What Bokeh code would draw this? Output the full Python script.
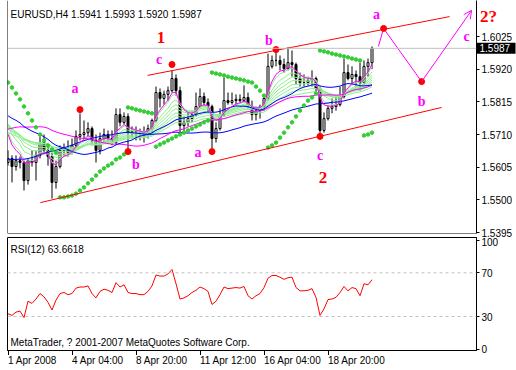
import numpy as np
import pandas as pd
from bokeh.plotting import figure
from bokeh.layouts import column, row
from bokeh.models import (Range1d, Span, Label, FixedTicker, PrintfTickFormatter,
                          Arrow, OpenHead)
from bokeh.embed import file_html
from bokeh.resources import INLINE
from bokeh.core.properties import value

# ---------------- data (EURUSD H4, bar 0 = 1 Apr 2008 12:00) ----------------
prior_close = [
    1.5480, 1.5500, 1.5520, 1.5530, 1.5540, 1.5550,
    1.5560, 1.5570, 1.5600, 1.5620, 1.5610, 1.5620,
    1.5630, 1.5620, 1.5600, 1.5640, 1.5650, 1.5660,
    1.5720, 1.5800, 1.5760, 1.5720, 1.5740, 1.5760,
    1.5740, 1.5720, 1.5700, 1.5680, 1.5750, 1.5780,
    1.5770, 1.5740, 1.5700, 1.5660, 1.5610, 1.5590,
    1.5560, 1.5500, 1.5460, 1.5420, 1.5400, 1.5420,
    1.5410, 1.5425, 1.5435, 1.5420, 1.5430, 1.5435,
    1.5440, 1.5420, 1.5450, 1.5480, 1.5500, 1.5490,
    1.5510, 1.5530, 1.5560, 1.5600, 1.5620, 1.5610,
    1.5640, 1.5660, 1.5700, 1.5760, 1.5790, 1.5780,
    1.5800, 1.5780, 1.5760, 1.5790, 1.5810, 1.5790,
    1.5770, 1.5760, 1.5790, 1.5820, 1.5800, 1.5790,
    1.5780, 1.5760, 1.5740, 1.5770, 1.5800, 1.5790,
    1.5780, 1.5760, 1.5700]

open_ = [1.5620, 1.5633, 1.5607, 1.5626, 1.5620, 1.5562, 1.5626, 1.5620, 1.5643, 1.5684,
         1.5659, 1.5639, 1.5556, 1.5607, 1.5659, 1.5665, 1.5652, 1.5675, 1.5704, 1.5710,
         1.5716, 1.5729, 1.5691, 1.5659, 1.5697, 1.5710, 1.5697, 1.5684, 1.5774, 1.5749,
         1.5768, 1.5716, 1.5720, 1.5716, 1.5713, 1.5710, 1.5729, 1.5755, 1.5845, 1.5826,
         1.5839, 1.5851, 1.5890, 1.5851, 1.5739, 1.5749, 1.5761, 1.5774, 1.5800, 1.5832,
         1.5813, 1.5800, 1.5697, 1.5729, 1.5774, 1.5819, 1.5813, 1.5819, 1.5823, 1.5819,
         1.5829, 1.5800, 1.5774, 1.5787, 1.5800, 1.5826, 1.5929, 1.5948, 1.5948, 1.5935,
         1.5922, 1.5941, 1.5935, 1.5890, 1.5877, 1.5877, 1.5884, 1.5890, 1.5858, 1.5723,
         1.5761, 1.5794, 1.5800, 1.5806, 1.5832, 1.5909, 1.5890, 1.5903, 1.5896, 1.5877,
         1.5929, 1.5941]
high = [1.5659, 1.5643, 1.5643, 1.5639, 1.5626, 1.5633, 1.5659, 1.5659, 1.5704, 1.5710,
        1.5675, 1.5652, 1.5626, 1.5675, 1.5681, 1.5691, 1.5697, 1.5723, 1.5778, 1.5755,
        1.5749, 1.5736, 1.5710, 1.5716, 1.5729, 1.5723, 1.5723, 1.5794, 1.5794, 1.5781,
        1.5778, 1.5736, 1.5736, 1.5729, 1.5736, 1.5742, 1.5761, 1.5864, 1.5858, 1.5851,
        1.5864, 1.5916, 1.5903, 1.5864, 1.5768, 1.5781, 1.5787, 1.5845, 1.5858, 1.5845,
        1.5826, 1.5806, 1.5749, 1.5794, 1.5893, 1.5845, 1.5845, 1.5839, 1.5839, 1.5868,
        1.5845, 1.5819, 1.5800, 1.5806, 1.5835, 1.5970, 1.5964, 1.5980, 1.5964, 1.5954,
        1.5990, 1.5980, 1.5941, 1.5909, 1.5903, 1.5896, 1.5916, 1.5896, 1.5864, 1.5781,
        1.5803, 1.5826, 1.5832, 1.5864, 1.5954, 1.5935, 1.5929, 1.5916, 1.5941, 1.5948,
        1.5954, 1.5993]
low = [1.5610, 1.5556, 1.5594, 1.5601, 1.5530, 1.5549, 1.5607, 1.5562, 1.5633, 1.5646,
       1.5610, 1.5504, 1.5536, 1.5601, 1.5643, 1.5639, 1.5646, 1.5668, 1.5691, 1.5697,
       1.5704, 1.5675, 1.5620, 1.5646, 1.5684, 1.5681, 1.5675, 1.5678, 1.5736, 1.5742,
       1.5652, 1.5697, 1.5691, 1.5691, 1.5684, 1.5697, 1.5716, 1.5749, 1.5797, 1.5806,
       1.5819, 1.5845, 1.5835, 1.5716, 1.5722, 1.5736, 1.5749, 1.5768, 1.5794, 1.5800,
       1.5781, 1.5665, 1.5684, 1.5723, 1.5768, 1.5806, 1.5806, 1.5806, 1.5813, 1.5813,
       1.5794, 1.5755, 1.5755, 1.5761, 1.5787, 1.5819, 1.5922, 1.5929, 1.5916, 1.5909,
       1.5916, 1.5896, 1.5871, 1.5864, 1.5864, 1.5868, 1.5864, 1.5848, 1.5704, 1.5716,
       1.5755, 1.5778, 1.5787, 1.5800, 1.5826, 1.5884, 1.5871, 1.5864, 1.5851, 1.5871,
       1.5896, 1.5920]
close = [1.5633, 1.5607, 1.5626, 1.5620, 1.5562, 1.5626, 1.5620, 1.5643, 1.5684, 1.5659,
         1.5639, 1.5556, 1.5607, 1.5659, 1.5665, 1.5652, 1.5675, 1.5704, 1.5710, 1.5716,
         1.5729, 1.5691, 1.5659, 1.5697, 1.5710, 1.5697, 1.5684, 1.5774, 1.5749, 1.5768,
         1.5716, 1.5720, 1.5716, 1.5713, 1.5710, 1.5729, 1.5755, 1.5845, 1.5826, 1.5839,
         1.5851, 1.5890, 1.5851, 1.5739, 1.5749, 1.5761, 1.5774, 1.5800, 1.5832, 1.5813,
         1.5800, 1.5697, 1.5729, 1.5774, 1.5819, 1.5813, 1.5819, 1.5823, 1.5819, 1.5829,
         1.5800, 1.5774, 1.5787, 1.5800, 1.5826, 1.5929, 1.5948, 1.5948, 1.5935, 1.5922,
         1.5941, 1.5935, 1.5890, 1.5877, 1.5877, 1.5884, 1.5890, 1.5858, 1.5723, 1.5761,
         1.5794, 1.5800, 1.5806, 1.5832, 1.5909, 1.5890, 1.5903, 1.5896, 1.5877, 1.5929,
         1.5941, 1.5987]

# Parabolic SAR dots
sar = [1.5877, 1.5861, 1.5842, 1.5823, 1.5800, 1.5778, 1.5755, 1.5733, 1.5710, 1.5691,
       1.5675, 1.5662, 1.5652,
       1.5508, 1.5508, 1.5511, 1.5514, 1.5520, 1.5530, 1.5540, 1.5553, 1.5565, 1.5578,
       1.5591, 1.5601, 1.5610, 1.5617, 1.5630, 1.5636, 1.5646,
       1.5797, 1.5794, 1.5790, 1.5787, 1.5784, 1.5781, 1.5778,
       1.5671, 1.5678, 1.5684, 1.5691, 1.5697, 1.5704, 1.5710, 1.5716, 1.5723, 1.5729,
       1.5736, 1.5742, 1.5749, 1.5755,
       1.5909, 1.5906, 1.5903, 1.5900, 1.5896, 1.5893, 1.5890, 1.5887, 1.5884, 1.5880,
       1.5877, 1.5864, 1.5851, 1.5835,
       1.5668, 1.5675, 1.5684, 1.5700, 1.5716, 1.5733, 1.5749, 1.5768, 1.5787, 1.5803,
       1.5819, 1.5829, 1.5842,
       1.5980, 1.5977, 1.5974, 1.5970, 1.5967, 1.5964, 1.5961, 1.5958, 1.5954, 1.5951,
       1.5948,
       1.5707, 1.5710, 1.5716]

rsi = [32.5, 31, 34, 35, 29, 44, 42, 46, 51, 48,
       43, 36, 45, 51, 52, 50, 51, 56, 57, 57,
       58, 51, 47, 53, 55, 54, 52, 61, 57, 59,
       52, 51, 51, 50, 50, 53, 58, 68, 67, 67,
       69, 73, 60, 46, 47, 49, 52, 54, 57, 55.5,
       53, 41, 44, 50, 57, 55.5, 56, 56.5, 56, 57.5,
       49, 46, 49, 51, 56.5, 65, 67.5, 67.5, 66, 64,
       65.5, 66, 56.5, 53.5, 53.5, 54, 55.5, 47.5, 31, 37,
       45.5, 46, 47.5, 52, 57.5, 53.5, 56.5, 55.5, 49, 60,
       59, 63.66]

# Elliott wave marks
wave_bar = [18, 30, 41, 51, 67, 78]
wave_price = [1.5790, 1.5655, 1.5935, 1.5655, 1.5983, 1.5704]
wave_text = ["a", "b", "c", "a", "b", "c"]
proj_bar = [92.6, 93.9, 103.4, 115.9]
proj_price = [1.5993, 1.6051, 1.5880, 1.6109]
proj_text = ["a", "b", "c"]
upper_bar, upper_price = [34.9, 110.4], [1.5900, 1.6089]
lower_bar, lower_price = [8.1, 108.4], [1.5491, 1.5797]

price_ticks = [1.5395, 1.5500, 1.5605, 1.5710, 1.5815, 1.5920, 1.6025]
rsi_ticks = [0, 30, 70, 100]
time_ticks = [0, 16, 32, 48, 64, 80]
time_labels = ["1 Apr 2008", "4 Apr 04:00", "8 Apr 20:00", "11 Apr 12:00",
               "16 Apr 04:00", "18 Apr 20:00"]

# ---------------- indicators ----------------
n = len(close)
idx = np.arange(n)
o = np.array(open_); h = np.array(high); l = np.array(low); c = np.array(close)
full = np.array(prior_close + close)


def ema(v, period):
    k = 2.0 / (period + 1)
    out = np.empty(len(v)); out[0] = v[0]
    for i in range(1, len(v)):
        out[i] = out[i - 1] + k * (v[i] - out[i - 1])
    return out[-n:]


def sma(v, period):
    return pd.Series(v).rolling(period, min_periods=1).mean().to_numpy()[-n:]


# ---------------- layout constants ----------------
FONT = "Liberation Sans"
SERIF = "Liberation Serif"
PX = 0.0003214             # price per pixel
ytop = 1.6025 + 36 * PX
ybot = ytop - 233 * PX
xr = Range1d(-0.125, 117.125)
common = dict(toolbar_location=None, output_backend="svg", min_border_left=7,
              min_border_right=40, frame_width=469)

# ---------------- main pane ----------------
p1 = figure(frame_height=233, x_range=xr, y_range=Range1d(ybot, ytop),
            x_axis_location=None, y_axis_location="right",
            min_border_top=0, min_border_bottom=10, **common)
p1.outline_line_color = None
p1.grid.visible = False
ax = p1.yaxis[0]
ax.ticker = FixedTicker(ticks=price_ticks)
ax.formatter = PrintfTickFormatter(format="%.4f")
ax.major_tick_out = 3; ax.major_tick_in = 0
ax.minor_tick_line_color = None
ax.axis_line_color = "black"; ax.major_tick_line_color = "black"
ax.major_label_text_font = FONT; ax.major_label_text_font_size = "10px"
ax.major_label_text_color = "black"; ax.major_label_standoff = 2

p1.add_layout(Span(location=xr.start, dimension="height", line_color="black", line_width=1))
p1.add_layout(Span(location=ybot, dimension="width", line_color="black", line_width=1))
p1.add_layout(Span(location=close[-1], dimension="width", line_color="#C0C0C0", line_width=1))

inc = c >= o
p1.segment(idx, h, idx, l, line_color="black", line_width=1)
p1.vbar(idx[inc], 0.5, o[inc], c[inc], fill_color="white", line_color="black", line_width=1)
p1.vbar(idx[~inc], 0.5, c[~inc], o[~inc], fill_color="black", line_color="black", line_width=1)

for per in [6, 9, 12, 15, 19, 23, 28, 34]:
    p1.line(idx, ema(full, per), line_color="#90EE90", line_width=1)
p1.line(idx, sma(full, 55), line_color="#0000FF", line_width=1)
p1.line(idx, sma(full, 34), line_color="#FF00FF", line_width=1)
p1.line(idx, sma(full, 21), line_color="#0000FF", line_width=1)
p1.line(idx, ema(full, 5), line_color="#FF00FF", line_width=1)

p1.scatter(idx, sar, marker="circle", size=3.5, fill_color="#32CD32", line_color="#32CD32")

p1.line(upper_bar, upper_price, line_color="#FF0000", line_width=1)
p1.line(lower_bar, lower_price, line_color="#FF0000", line_width=1)

p1.line(proj_bar[:3], proj_price[:3], line_color="#FF00FF", line_width=1)
p1.add_layout(Arrow(end=OpenHead(size=8, line_color="#FF00FF", line_width=1),
                    x_start=proj_bar[2], y_start=proj_price[2],
                    x_end=proj_bar[3], y_end=proj_price[3],
                    line_color="#FF00FF", line_width=1))
p1.scatter(wave_bar + proj_bar[1:3], wave_price + proj_price[1:3], marker="circle", size=6,
           fill_color="#FF0000", line_color="#FF0000")

lx = wave_bar + proj_bar[1:4]
ly = wave_price + proj_price[1:4]
lt = wave_text + proj_text
dx = [-5, 8, -13, -14, -7, 0, -7, 0, -5]
dy = [-21, 13, -5, 1, -9, 19, -14, 20, 26]
p1.text(x=lx, y=ly, text=lt, x_offset=dx, y_offset=dy, text_color="#FF00FF",
        text_font=value(SERIF), text_font_style="bold", text_font_size="14px",
        text_align="center", text_baseline="middle")
p1.text(x=[wave_bar[2], wave_bar[5]], y=[wave_price[2], wave_price[5]], text=["1", "2"],
        x_offset=[-11, 3], y_offset=[-27, 41], text_color="#FF0000",
        text_font=value(SERIF), text_font_style="bold", text_font_size="17px",
        text_align="center", text_baseline="middle")
p1.add_layout(Label(x=xr.start, y=ytop, x_offset=3, y_offset=-14,
                    text="EURUSD,H4  1.5941 1.5993 1.5920 1.5987", text_font=FONT,
                    text_font_size="10px", text_color="black", text_baseline="middle"))

# overlay on the price scale: "2?" and the current price box
ov = figure(frame_width=40, frame_height=60, x_range=Range1d(0, 40),
            y_range=Range1d(ytop - 60 * PX, ytop), toolbar_location=None,
            output_backend="svg", x_axis_location=None, y_axis_location=None,
            min_border=0, margin=(0, 0, 0, -40))
ov.outline_line_color = None
ov.grid.visible = False
ov.background_fill_alpha = 0
ov.border_fill_alpha = 0
ov.quad(left=[0], right=[39], bottom=[close[-1] - 5.5 * PX], top=[close[-1] + 5.5 * PX],
        fill_color="black", line_color=None)
ov.text(x=[3], y=[close[-1]], text=["%.4f" % close[-1]], text_color="white",
        text_font=value(FONT), text_font_size="10px", text_align="left",
        text_baseline="middle")
ov.text(x=[12], y=[proj_price[3]], y_offset=[6], text=["2?"], text_color="#FF0000",
        text_font=value(SERIF), text_font_style="bold", text_font_size="17px",
        text_align="center", text_baseline="middle")

# ---------------- RSI pane ----------------
p2 = figure(frame_height=113, x_range=xr, y_range=Range1d(-1.1, 102.3),
            y_axis_location="right", min_border_top=0, min_border_bottom=5,
            margin=(-6, 0, 0, 0), **common)
p2.outline_line_color = "black"
p2.grid.visible = False
p2.border_fill_alpha = 0
ry = p2.yaxis[0]
ry.ticker = FixedTicker(ticks=rsi_ticks)
ry.major_tick_out = 3; ry.major_tick_in = 0
ry.minor_tick_line_color = None
ry.axis_line_color = "black"
ry.major_label_text_font = FONT; ry.major_label_text_font_size = "10px"
ry.major_label_text_color = "black"; ry.major_label_standoff = 2
bx = p2.xaxis[0]
bx.ticker = FixedTicker(ticks=time_ticks)
bx.major_label_overrides = {t: "" for t in time_ticks}
bx.major_label_text_font_size = "0px"
bx.major_label_standoff = 0
bx.major_tick_out = 5; bx.major_tick_in = 0
bx.minor_tick_line_color = None
bx.axis_line_color = "black"

for lev in (30, 70):
    p2.add_layout(Span(location=lev, dimension="width", line_color="#C0C0C0",
                       line_width=1, line_dash="3 3"))
p2.line(idx, rsi, line_color="#FF0000", line_width=1)
p2.add_layout(Label(x=xr.start, y=102.3, x_offset=3, y_offset=-12, text="RSI(12) 63.6618",
                    text_font=FONT, text_font_size="10px", text_color="black",
                    text_baseline="middle"))
p2.add_layout(Label(x=xr.start, y=-1.1, x_offset=3, y_offset=8,
                    text="MetaTrader, ? 2001-2007 MetaQuotes Software Corp.",
                    text_font=FONT, text_font_size="10px", text_color="black",
                    text_baseline="middle"))

# time labels strip
tf = figure(frame_height=15, x_range=xr, y_range=Range1d(15, 0),
            x_axis_location=None, y_axis_location=None, min_border_top=0,
            min_border_bottom=0, **common)
tf.outline_line_color = None
tf.grid.visible = False
tf.text(x=time_ticks, y=[5] * len(time_ticks), text=time_labels, text_color="black",
        text_font=value(FONT), text_font_size="10px", text_align="left",
        text_baseline="middle")

layout = column(row(p1, ov), p2, tf)
open("out.html", "w").write(file_html(layout, INLINE))
